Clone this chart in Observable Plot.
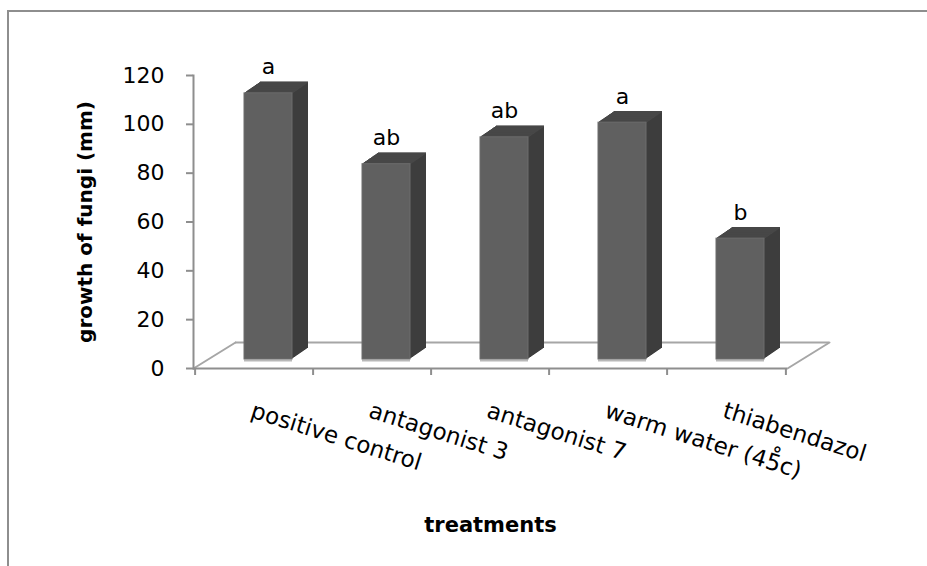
<!DOCTYPE html>
<html>
<head>
<meta charset="utf-8">
<script src="https://cdn.jsdelivr.net/npm/d3@7"></script>
<script src="https://cdn.jsdelivr.net/npm/@observablehq/plot@0.6"></script>
<style>
  html, body { margin: 0; padding: 0; background: #fff; overflow: hidden; }
  #wrap { position: relative; width: 927px; height: 566px; overflow: hidden; background: #fff; }
  #bTop { position: absolute; left: 7px; top: 10px; width: 920px; height: 2px; background: #8e8e8e; }
  #bLeft { position: absolute; left: 7px; top: 10px; width: 2px; height: 556px; background: #8e8e8e; }
  #chart { position: absolute; left: 0; top: 0; }
</style>
</head>
<body>
<div id="wrap"><div id="bTop"></div><div id="bLeft"></div><div id="chart"></div></div>
<script>
const categories = ["positive control", "antagonist 3", "antagonist 7", "warm water (45\u030Ac)", "thiabendazol"];
const growth = [109, 80, 91, 97, 49.5];
const letters = ["a", "ab", "ab", "a", "b"];
const yTicks = [0, 20, 40, 60, 80, 100, 120];
const yTitle = "growth of fungi (mm)";
const xTitle = "treatments";

const data = categories.map((c, i) => ({category: c, growth: growth[i], letter: letters[i]}));

const W = 927, H = 566, ML = 193, MR = 140, MT = 75, MB = 198;
const step = (W - ML - MR) / categories.length;
const font = "'DejaVu Sans', sans-serif";

// 3D offsets (pixels)
const midDx = 14, midDy = -9;       // bars sit mid-depth on the floor
const floorDx = 42, floorDy = -26;  // floor depth
const depthN = 16, depthDy = 11;    // bar extrusion depth

const sideFill = "#3d3d3d", topFill = "#474747", frontFill = "#606060";
const floorAngle = Math.atan2(floorDx, -floorDy) * 180 / Math.PI;
const floorLen = Math.hypot(floorDx, floorDy);

const marks = [];
// floor
marks.push(Plot.ruleY([0], {dx: floorDx, dy: floorDy, stroke: "#a6a6a6", strokeWidth: 2}));
marks.push(Plot.vector([0], {frameAnchor: "bottom-left", length: floorLen, rotate: floorAngle, anchor: "start", r: 0, stroke: "#a6a6a6", strokeWidth: 2}));
marks.push(Plot.vector([0], {frameAnchor: "bottom-right", length: floorLen, rotate: floorAngle, anchor: "start", r: 0, stroke: "#a6a6a6", strokeWidth: 2}));
marks.push(Plot.ruleY([0], {stroke: "#8e8e8e", strokeWidth: 2}));
// x boundary ticks
marks.push(Plot.axisX({tickSize: 7, tickFormat: () => "", dx: -step / 2, stroke: "#8e8e8e", strokeWidth: 2, label: null}));
marks.push(Plot.axisX({ticks: [categories[categories.length - 1]], tickSize: 7, tickFormat: () => "", dx: step / 2, stroke: "#8e8e8e", strokeWidth: 2, label: null}));
// y axis
marks.push(Plot.frame({anchor: "left", stroke: "#8e8e8e", strokeWidth: 2}));
marks.push(Plot.axisY({ticks: yTicks, tickSize: 7, tickPadding: 22, stroke: "#8e8e8e", strokeWidth: 2, fill: "black", fontSize: 22, label: null}));

// bar extrusions (side faces)
for (let i = depthN; i >= 1; i--) {
  marks.push(Plot.barY(data, {x: "category", y: "growth", fill: sideFill, dx: midDx + i, dy: midDy - i * depthDy / depthN}));
}
// top faces
for (let i = depthN; i >= 1; i--) {
  marks.push(Plot.tickY(data, {x: "category", y: "growth", stroke: topFill, strokeWidth: 1.5, dx: midDx + i, dy: midDy - i * depthDy / depthN}));
}
// bottom highlight of front face
marks.push(Plot.tickY(data, {x: "category", y: () => 0, stroke: "#b8b8b8", strokeWidth: 2, dx: midDx, dy: midDy + 1}));
// front faces
marks.push(Plot.barY(data, {x: "category", y: "growth", fill: frontFill, stroke: "#6c6c6c", strokeWidth: 1, dx: midDx, dy: midDy}));

// significance letters
marks.push(Plot.text(data, {x: "category", y: "growth", text: "letter", dx: midDx, dy: midDy - 19, lineAnchor: "bottom", fontSize: 22, fill: "black"}));

// category labels
marks.push(Plot.text(data, {x: "category", text: "category", frameAnchor: "bottom", dy: 33, rotate: 17.5, textAnchor: "start", lineAnchor: "top", fontSize: 23, fill: "black"}));

// axis titles
marks.push(Plot.text([yTitle], {frameAnchor: "left", dx: -108, rotate: -90, textAnchor: "middle", lineAnchor: "middle", fontSize: 20, fontWeight: "bold", fill: "black"}));
marks.push(Plot.text([xTitle], {frameAnchor: "bottom", dy: 163, textAnchor: "middle", lineAnchor: "bottom", fontSize: 21, fontWeight: "bold", fill: "black"}));

const chart = Plot.plot({
  width: W, height: H,
  marginLeft: ML, marginRight: MR, marginTop: MT, marginBottom: MB,
  style: {fontFamily: font, background: "transparent", overflow: "visible"},
  x: {type: "band", domain: categories, paddingInner: 0.59, paddingOuter: 0.295, axis: null},
  y: {domain: [0, 120], axis: null},
  marks
});
document.getElementById("chart").appendChild(chart);
</script>
</body>
</html>
